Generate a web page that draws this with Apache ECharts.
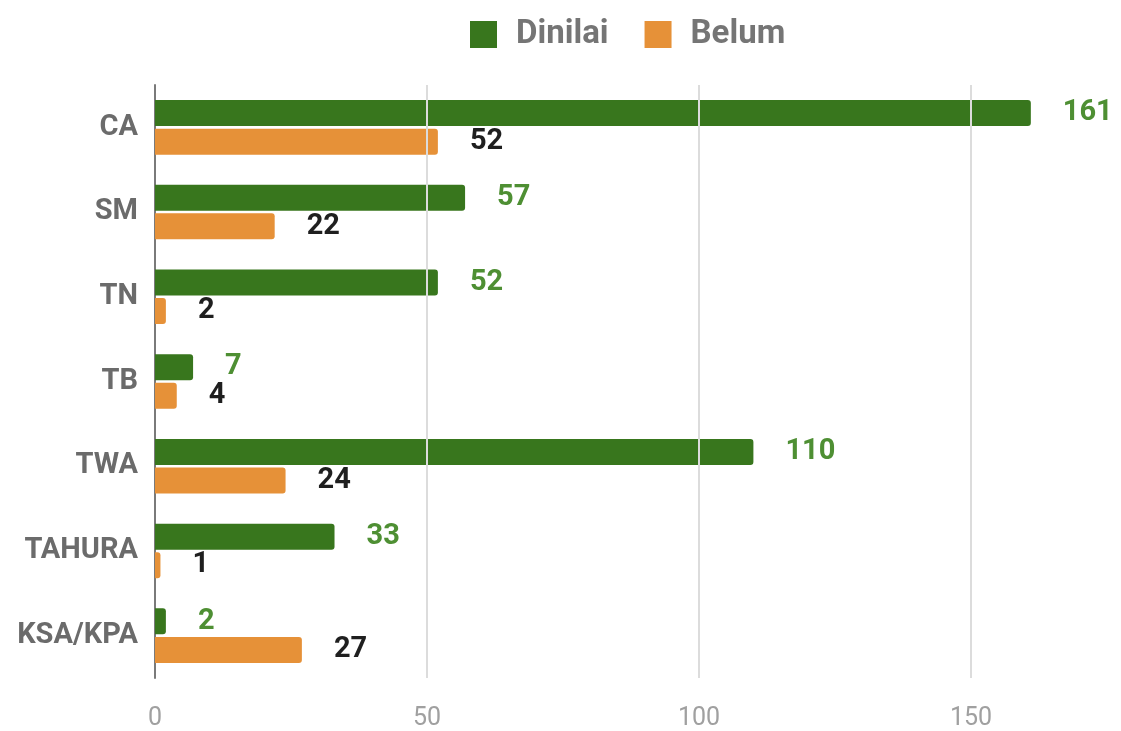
<!DOCTYPE html>
<html>
<head>
<meta charset="utf-8">
<script src="https://cdn.jsdelivr.net/npm/echarts@6/dist/echarts.min.js"></script>
<style>
  html, body { margin: 0; padding: 0; background: #fff; }
  #chart { width: 1121px; height: 731px; }
</style>
</head>
<body>
<div id="chart"></div>
<script>
// Categories, top to bottom
const categories = ['CA', 'SM', 'TN', 'TB', 'TWA', 'TAHURA', 'KSA/KPA'];
// Series values
const dinilai = [161, 57, 52, 7, 110, 33, 2];
const belum = [52, 22, 2, 4, 24, 1, 27];
// Value-axis ticks
const xTicks = [0, 50, 100, 150];

const GREEN = '#38761d';
const ORANGE = '#e69138';
const FONT = 'Roboto, "Noto Sans", sans-serif';

const chart = echarts.init(document.getElementById('chart'));

chart.setOption({
  animation: false,
  textStyle: { fontFamily: FONT },
  legend: {
    top: 13,
    left: 465,
    itemWidth: 27,
    itemHeight: 27,
    itemGap: 36,
    icon: 'rect',
    textStyle: {
      fontSize: 33,
      fontWeight: 'bold',
      color: '#757575',
      fontFamily: FONT,
      padding: [0, 0, 0, 14]
    },
    data: ['Dinilai', 'Belum']
  },
  grid: { left: 155, right: 14, top: 85, bottom: 53 },
  xAxis: {
    type: 'value',
    min: 0,
    max: 175,
    interval: 50,
    axisLine: { show: false },
    axisTick: { show: false },
    splitLine: { show: false },
    axisLabel: {
      margin: 28,
      fontSize: 25,
      color: '#a0a0a0',
      fontFamily: FONT,
      showMaxLabel: false
    }
  },
  yAxis: {
    type: 'category',
    inverse: true,
    data: categories,
    axisLine: { show: true, lineStyle: { color: '#7a7a7a', width: 2 } },
    axisTick: { show: false },
    axisLabel: { margin: 17, fontSize: 29, fontWeight: 'bold', color: '#6b6b6b', fontFamily: FONT }
  },
  series: [
    {
      name: 'Dinilai',
      type: 'bar',
      data: dinilai,
      barWidth: 26,
      barGap: '10%',
      itemStyle: { color: GREEN, borderRadius: [0, 3, 3, 0] },
      label: {
        show: true,
        position: 'right',
        distance: 32,
        fontSize: 29,
        fontWeight: 'bold',
        color: '#4e8f33',
        fontFamily: FONT
      },
      markLine: {
        silent: true,
        symbol: 'none',
        label: { show: false },
        lineStyle: { color: '#dcdcdc', width: 2, type: 'solid' },
        data: xTicks.filter(v => v > 0).map(v => ({ xAxis: v }))
      },
      z: 3
    },
    {
      name: 'Belum',
      type: 'bar',
      data: belum,
      barWidth: 26,
      itemStyle: { color: ORANGE, borderRadius: [0, 3, 3, 0] },
      label: {
        show: true,
        position: 'right',
        distance: 32,
        fontSize: 29,
        fontWeight: 'bold',
        color: '#1f1f1f',
        fontFamily: FONT
      },
      z: 3
    }
  ]
});
</script>
</body>
</html>
